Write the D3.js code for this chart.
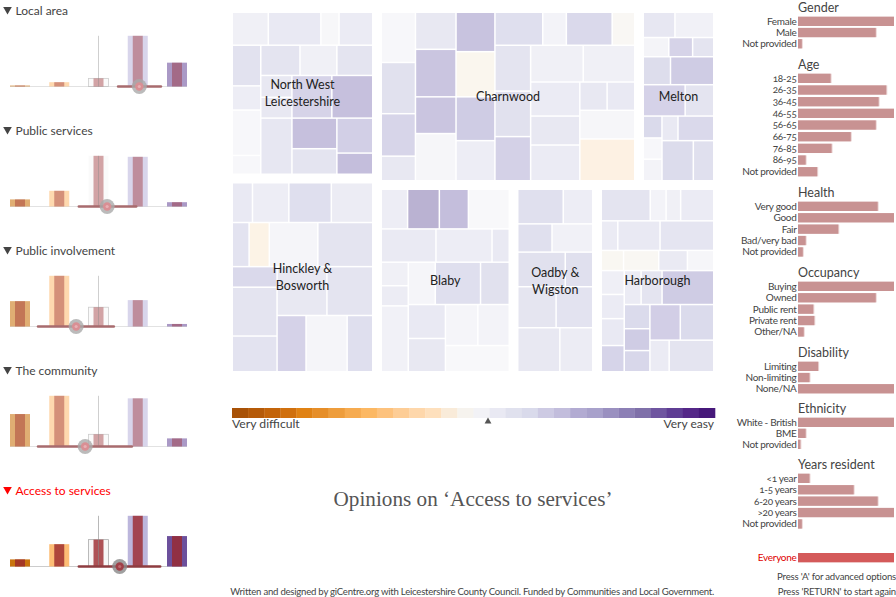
<!DOCTYPE html>
<html>
<head>
<meta charset="utf-8">
<script src="https://d3js.org/d3.v7.min.js"></script>
<style>
body { margin: 0; background: #fff; }
text { font-family: Lato, "Open Sans", sans-serif; font-feature-settings: "onum"; }
</style>
</head>
<body>
<svg id="chart" width="896" height="597"></svg>
<script>
// themes on the left: share of answers per category, tallest = 100
var themes = ['Local area', 'Public services', 'Public involvement', 'The community', 'Access to services'];
var selectedTheme = 'Access to services';
var localArea = [2, 8.5, 16, 100, 47];
var publicServices = [14, 31, 100, 98, 8.5];
var publicInvolvement = [50, 100, 38, 52, 5];
var theCommunity = [64, 100, 24, 95, 16];
var accessToServices = [14, 44, 53, 100, 60];
var themeValues = [localArea, publicServices, publicInvolvement, theCommunity, accessToServices];
// opinion on the 1-5 scale: mean and low/high of the spread
var themeMeans = [4.04, 3.22, 2.43, 2.66, 3.54];
var themeLows = [3.5, 2.5, 1.46, 1.46, 2.5];
var themeHighs = [4.59, 3.96, 3.39, 3.85, 4.57];
var barColours = ['#c9740e', '#fdbd75', '#f7f7f7', '#bcb6dc', '#6c509c'];

// districts. leaf = [size, score], branch = [size, [children]], splits alternate by depth
var northWest = [
  [98, [[107,1.4],[156,2.3],[54,0.3],[100,2]]],
  [384, [
    [85, [[121,3.3],[72,1.7],[135,0.2],[56,0.2]]],
    [334, [
      [90, [[117,3],[110,1.4],[107,3]]],
      [127, [[93,[[65,2.4],[62,2.4]]],[119,4.8],[122,6.8]]],
      [167, [[93,2.6],[134,[[91,6.8],[76,3]]],[107,[[104,5.2],[63,7]]]]]
    ]]
  ]]
];
var charnwood = [
  [102, [[149,0.2],[152,3.4],[126,4.6],[73,2.4]]],
  [121, [[110,2.4],[141,6.3],[109,6.3],[140,0.5]]],
  [116, [[117,6.5],[134,-1],[130,5.6],[119,1.7]]],
  [417, [
    [98, [[142,3.6],[70,1],[136,4.3],[67,-0.5]]],
    [402, [
      [106, [[136,3],[135,3.4],[131,5]]],
      [309, [
        [109, [[156,1.4],[153,1.4]]],
        [293, [
          [146, [[101,2],[86,2.4],[106,2]]],
          [163, [[84,[[81,2.4],[82,2.3]]],[85,0.4],[124,-2]]]
        ]]
      ]]
    ]]
  ]]
];
var melton = [
  [75, [[93,2.6],[114,1.2]]],
  [57, [[75,0.8],[70,4.8],[62,3]]],
  [83, [[80,3.9],[127,5.6]]],
  [93, [[123,4.9],[84,3]]],
  [192, [
    [55, [[65,4.2],[63,0.2],[64,1]]],
    [152, [
      [73, [[47,2.3],[105,4.3]]],
      [119, [[92,4],[60,3.5]]]
    ]]
  ]]
];
var hinckley = [
  [118, [[60,2.3],[108,1.7],[126,3.6],[123,1.9]]],
  [131, [[50,3.1],[60,-1.7],[144,0.7],[163,3]]],
  [312, [
    [133, [[61,4.3],[145,3],[106,3.1]]],
    [284, [
      [145, [[148,2.5],[136,3]]],
      [167, [[86,4.9],[122,0.7],[76,3.6]]]
    ]]
  ]]
];
var blaby = [
  [118, [[78,1.8],[94,8],[86,7],[121,0]]],
  [99, [[162,2.2],[166,1.7],[51,2.3]]],
  [326, [
    [80, [[70,1.4],[60,1.9],[196,1.3]]],
    [299, [
      [126, [[80,0.6],[134,3.6],[85,3.4]]],
      [200, [
        [110, [[101,2.3],[99,2.5]]],
        [189, [
          [122, [[96,0.6],[93,1]]],
          [78, 0.1]
        ]]
      ]]
    ]]
  ]]
];
var oadby = [
  [103, [[134,3.5],[87,1.7]]],
  [84, [[101,3.5],[120,1.2]]],
  [103, [[140,3.4],[81,3.5]]],
  [122, [[113,2.9],[108,3.1]]],
  [131, [[124,2.5],[97,1.9]]]
];
var harborough = [
  [94, [[145,3],[47,1],[43,1.4],[98,2]]],
  [88, [[49,2],[125,2.3],[159,2.8]]],
  [60, [[66,-0.7],[104,-0.6],[85,2.2],[78,0.5]]],
  [301, [
    [68, [[71,1.5],[72,2],[80,2.3],[78,4.7]]],
    [265, [
      [101, [[50,2],[62,3],[153,5.6]]],
      [200, [
        [76, [[72,4.1],[65,5.6],[63,4.5]]],
        [189, [
          [106, [[90,5.3],[99,4.1]]],
          [94, [[57,2],[132,3]]]
        ]]
      ]]
    ]]
  ]]
];

// how the districts sit together: same nesting idea, one level up
var districtTree = [
  [149, [
    [170.5, {names: ['North West', 'Leicestershire'], dir: 'y', cells: northWest}],
    [197.5, {names: ['Hinckley &', 'Bosworth'], dir: 'y', cells: hinckley}]
  ]],
  [341, [
    [177, [
      [262, {names: ['Charnwood'], dir: 'x', cells: charnwood}],
      [79, {names: ['Melton'], dir: 'y', cells: melton}]
    ]],
    [191, [
      [136.5, {names: ['Blaby'], dir: 'y', cells: blaby}],
      [83.5, {names: ['Oadby &', 'Wigston'], dir: 'y', cells: oadby}],
      [121, {names: ['Harborough'], dir: 'y', cells: harborough}]
    ]]
  ]]
];

var scoreStops = [-2, -1, 0, 1, 2, 3, 4, 5, 6, 7, 8];
var scoreColours = ['#fdf1e3', '#faf6ee', '#f8f8fa', '#f3f3f8', '#ebebf4', '#e4e4f0', '#dcdcec', '#d4d1e7', '#ccc8e2', '#c4bedc', '#bab2d2'];

var legendColours = ['#a85207','#b55a08','#c3640a','#d0700e','#e08214','#e68e28','#ee9d3c','#f6ab50','#fcb863','#fdc27d',
  '#fdcd96','#fed7ab','#fee0bd','#f9ebd9','#f6f3ee','#f2f2f6','#e9e9f3','#e0e1ee','#d9daeb','#cdcae3',
  '#c2bddc','#b2abd2','#a8a1cb','#9a90c0','#8c7fb5','#7f70a9','#6f55a0','#5f3d94','#542788','#46187a'];

// respondent groups on the right, longest bar in a group = 100
var groupNames = ['Gender', 'Age', 'Health', 'Occupancy', 'Disability', 'Ethnicity', 'Years resident'];
var groupLabels = [
  ['Female', 'Male', 'Not provided'],
  ['18-25', '26-35', '36-45', '46-55', '56-65', '66-75', '76-85', '86-95', 'Not provided'],
  ['Very good', 'Good', 'Fair', 'Bad/very bad', 'Not provided'],
  ['Buying', 'Owned', 'Public rent', 'Private rent', 'Other/NA'],
  ['Limiting', 'Non-limiting', 'None/NA'],
  ['White - British', 'BME', 'Not provided'],
  ['<1 year', '1-5 years', '6-20 years', '>20 years', 'Not provided']
];
var groupValues = [
  [100, 81, 4],
  [34, 92, 84, 100, 81, 55, 35, 8, 20],
  [83, 100, 42, 8, 5],
  [100, 81, 16, 17, 6],
  [21, 12, 100],
  [100, 8, 2.5],
  [12, 58, 83, 100, 4]
];
var groupTitleY = [7, 64, 192, 272, 352, 408, 464];
var groupRowStep = [11.2, 11.67, 11.4, 11.4, 11.2, 11, 11.4];

var svg = d3.select('#chart');

// ---- left column
var catX = d3.scalePoint().domain([1, 2, 3, 4, 5]).range([20, 177]);
var meanX = d3.scaleLinear().domain([1, 5]).range([20, 177]);
var barH = d3.scaleLinear().domain([0, 100]).range([0, 50.7]);

themes.forEach(function(name, i) {
  var top = 10 + i * 120;
  var base = 86.5 + i * 120;
  var selected = name == selectedTheme;
  var g = svg.append('g');

  g.append('path')
    .attr('d', d3.symbol().type(d3.symbolTriangle).size(32))
    .attr('transform', 'translate(7.5,' + (top - 0.5) + ') rotate(180)')
    .attr('fill', selected ? '#f00' : '#444');
  g.append('text').attr('x', 15.5).attr('y', top + 4.5)
    .attr('font-size', 12)
    .attr('fill', selected ? '#f00' : '#444')
    .text(name);

  g.append('line')
    .attr('x1', catX(1) - 10).attr('x2', catX(5) + 10)
    .attr('y1', base).attr('y2', base)
    .attr('stroke', selected ? '#ccc' : '#e2e2e2');

  var bars = themeValues[i].map(function(v, j) { return {cat: j + 1, v: v}; });

  g.selectAll('rect.full').data(bars).enter().append('rect')
    .attr('class', 'full')
    .attr('x', function(d) { return catX(d.cat) - 10; })
    .attr('width', 20)
    .attr('y', function(d) { return base - barH(d.v); })
    .attr('height', function(d) { return barH(d.v); })
    .attr('fill', function(d) { return barColours[d.cat - 1]; })
    .attr('opacity', selected ? 1 : 0.58)
    .attr('stroke', function(d) { return d.cat == 3 && d.v < 90 ? '#aaa' : 'none'; })
    .attr('stroke-width', 0.8);

  g.selectAll('rect.part').data(bars).enter().append('rect')
    .attr('class', 'part')
    .attr('x', function(d) { return catX(d.cat) - 5; })
    .attr('width', 10)
    .attr('y', function(d) { return base - barH(d.v); })
    .attr('height', function(d) { return barH(d.v); })
    .attr('fill', 'rgb(155,40,45)')
    .attr('fill-opacity', 0.8)
    .attr('opacity', selected ? 1 : 0.52);

  g.append('line')
    .attr('x1', catX(3)).attr('x2', catX(3))
    .attr('y1', base - barH(100)).attr('y2', base)
    .attr('stroke', '#888')
    .attr('stroke-opacity', selected ? 0.6 : 0.4);

  // spread and mean marker
  g.append('line')
    .attr('x1', meanX(themeLows[i])).attr('x2', meanX(themeHighs[i]))
    .attr('y1', base).attr('y2', base)
    .attr('stroke', selected ? '#8e3c40' : '#a86b6e')
    .attr('stroke-width', 2.6)
    .attr('stroke-linecap', 'round');
  g.append('circle')
    .attr('cx', meanX(themeMeans[i])).attr('cy', base).attr('r', 7.5)
    .attr('fill', selected ? '#888' : '#aaa').attr('fill-opacity', 0.8);
  g.append('circle')
    .attr('cx', meanX(themeMeans[i])).attr('cy', base).attr('r', 4.2)
    .attr('fill', selected ? '#a04048' : '#d98f94');
  g.append('circle')
    .attr('cx', meanX(themeMeans[i])).attr('cy', base).attr('r', 1.6)
    .attr('fill', selected ? '#c06a70' : '#e8b0b4');
});

// ---- district treemap
var scoreColour = d3.scaleLinear().domain(scoreStops).range(scoreColours);
var cellGap = 1.5;
var districtPad = 4.25;
var leaves = [];
var labels = [];

// share out a box along one axis by the children's sizes
function splitBox(kids, box, dir) {
  var cum = [0].concat(Array.from(d3.cumsum(kids, function(k) { return k[0]; })));
  var s = d3.scaleLinear()
    .domain([0, cum[cum.length - 1]])
    .range(dir == 'x' ? [box.x0, box.x1] : [box.y0, box.y1]);
  return kids.map(function(k, i) {
    if (dir == 'x') return {x0: s(cum[i]), x1: s(cum[i + 1]), y0: box.y0, y1: box.y1};
    return {x0: box.x0, x1: box.x1, y0: s(cum[i]), y1: s(cum[i + 1])};
  });
}

function layoutCells(kids, box, dir) {
  var boxes = splitBox(kids, box, dir);
  kids.forEach(function(k, i) {
    if (Array.isArray(k[1])) layoutCells(k[1], boxes[i], dir == 'x' ? 'y' : 'x');
    else leaves.push({box: boxes[i], score: k[1]});
  });
}

function layoutDistricts(kids, box, dir) {
  var boxes = splitBox(kids, box, dir);
  kids.forEach(function(k, i) {
    var b = boxes[i];
    if (Array.isArray(k[1])) {
      layoutDistricts(k[1], b, dir == 'x' ? 'y' : 'x');
    } else {
      var inner = {x0: b.x0 + districtPad, x1: b.x1 - districtPad, y0: b.y0 + districtPad, y1: b.y1 - districtPad};
      layoutCells(k[1].cells, inner, k[1].dir);
      labels.push({names: k[1].names, cx: (b.x0 + b.x1) / 2, cy: (b.y0 + b.y1) / 2});
    }
  });
}

layoutDistricts(districtTree, {x0: 228, x1: 718, y0: 8, y1: 376}, 'x');

svg.append('g').selectAll('rect').data(leaves).enter().append('rect')
  .attr('x', function(d) { return d.box.x0 + cellGap / 2; })
  .attr('y', function(d) { return d.box.y0 + cellGap / 2; })
  .attr('width', function(d) { return d.box.x1 - d.box.x0 - cellGap; })
  .attr('height', function(d) { return d.box.y1 - d.box.y0 - cellGap; })
  .attr('fill', function(d) { return scoreColour(d.score); });

var lineH = 17;
labels.forEach(function(l) {
  l.names.forEach(function(n, j) {
    svg.append('text')
      .attr('x', l.cx)
      .attr('y', l.cy + 4.5 + (j - (l.names.length - 1) / 2) * lineH)
      .attr('text-anchor', 'middle')
      .attr('font-size', 12.5)
      .attr('fill', '#222')
      .text(n);
  });
});

// ---- legend
var legendX = d3.scaleBand().domain(d3.range(legendColours.length)).range([232, 715]);
svg.append('g').selectAll('rect').data(legendColours).enter().append('rect')
  .attr('x', function(d, i) { return legendX(i); })
  .attr('y', 408)
  .attr('width', legendX.bandwidth() + 0.3)
  .attr('height', 10)
  .attr('fill', function(d) { return d; });
svg.append('path')
  .attr('d', d3.symbol().type(d3.symbolTriangle).size(20))
  .attr('transform', 'translate(488,421.5)')
  .attr('fill', '#555');
svg.append('text').attr('x', 232).attr('y', 428).attr('font-size', 12.2).attr('fill', '#444').text('Very difficult');
svg.append('text').attr('x', 714).attr('y', 428).attr('font-size', 12).attr('fill', '#444').attr('text-anchor', 'end').text('Very easy');

svg.append('text').attr('x', 473).attr('y', 506)
  .attr('text-anchor', 'middle')
  .attr('font-size', 21.2)
  .attr('fill', '#555')
  .style('font-family', '"Liberation Serif", serif')
  .text('Opinions on ‘Access to services’');

svg.append('text').attr('x', 714).attr('y', 595)
  .attr('text-anchor', 'end')
  .attr('font-size', 9.6)
  .attr('letter-spacing', -0.24)
  .attr('fill', '#444')
  .text('Written and designed by giCentre.org with Leicestershire County Council. Funded by Communities and Local Government.');

// ---- right column
var groupX = d3.scaleLinear().domain([0, 100]).range([798, 894]);

function drawRow(label, value, y, colour, labelColour) {
  svg.append('rect').attr('x', groupX(0)).attr('y', y)
    .attr('width', Math.min(groupX(value) - groupX(0) + 1, 96)).attr('height', 9.3)
    .attr('fill', '#ecd6d6');
  svg.append('rect').attr('x', groupX(0)).attr('y', y)
    .attr('width', groupX(value) - groupX(0)).attr('height', 9.3)
    .attr('fill', colour);
  svg.append('text').attr('x', 796.5).attr('y', y + 8)
    .attr('text-anchor', 'end')
    .attr('font-size', 10)
    .attr('letter-spacing', -0.3)
    .attr('fill', labelColour)
    .text(label);
}

groupNames.forEach(function(name, i) {
  svg.append('text').attr('x', 798).attr('y', groupTitleY[i] + 4.5)
    .attr('font-size', 12.5).attr('fill', '#444').text(name);
  groupLabels[i].forEach(function(label, j) {
    drawRow(label, groupValues[i][j], groupTitleY[i] + 9.7 + j * groupRowStep[i], '#c89292', '#444');
  });
});

drawRow('Everyone', 100, 553, '#d45a5a', '#e00000');

svg.append('text').attr('x', 896).attr('y', 580).attr('text-anchor', 'end').attr('font-size', 9.6).attr('letter-spacing', -0.2).attr('fill', '#444')
  .text("Press 'A' for advanced options");
svg.append('text').attr('x', 896).attr('y', 595).attr('text-anchor', 'end').attr('font-size', 9.6).attr('letter-spacing', -0.2).attr('fill', '#444')
  .text("Press 'RETURN' to start again");
</script>
</body>
</html>
